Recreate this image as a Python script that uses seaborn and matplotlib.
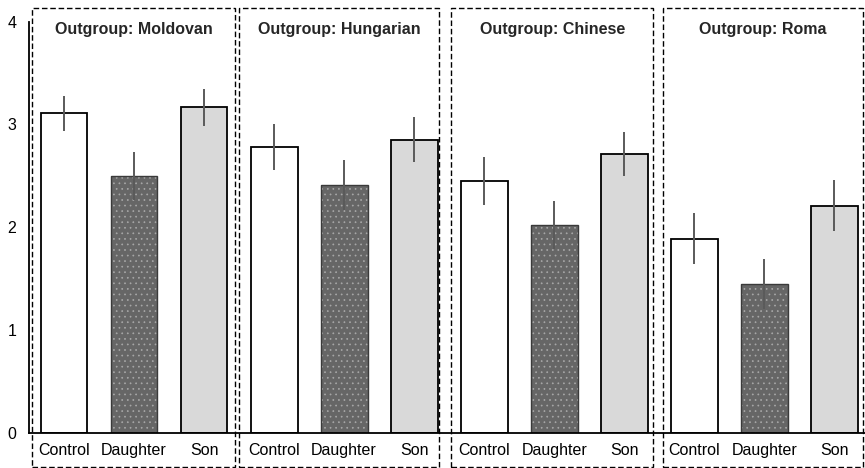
import matplotlib
matplotlib.use("Agg")
import matplotlib.pyplot as plt
from matplotlib.patches import Rectangle
import seaborn as sns
import pandas as pd
import numpy as np

# ---- data ----
outgroups = ["Moldovan", "Hungarian", "Chinese", "Roma"]
conditions = ["Control", "Daughter", "Son"]
means_moldovan = [3.11, 2.50, 3.165]
means_hungarian = [2.78, 2.41, 2.85]
means_chinese = [2.45, 2.02, 2.715]
means_roma = [1.89, 1.45, 2.21]
err_moldovan = [0.17, 0.235, 0.18]
err_hungarian = [0.225, 0.245, 0.22]
err_chinese = [0.235, 0.235, 0.215]
err_roma = [0.245, 0.24, 0.245]
yticks = [0, 1, 2, 3, 4]

# ---- layout (dashed group boxes, in x-category units) ----
box_left = [-0.457, 2.50, 5.529, 8.557]
box_right = [2.443, 5.357, 8.414, 11.41]

means = [means_moldovan, means_hungarian, means_chinese, means_roma]
errs = [err_moldovan, err_hungarian, err_chinese, err_roma]

rows = []
for g, m, e in zip(outgroups, means, errs):
    for c, mv, ev in zip(conditions, m, e):
        rows.append({"slot": f"{g}|{c}", "outgroup": g, "condition": c,
                     "mean": mv, "err": ev})
df = pd.DataFrame(rows)
order = list(df["slot"])

sns.set_theme(style="white")
plt.rcParams["font.family"] = ["Liberation Sans", "DejaVu Sans"]
plt.rcParams["hatch.linewidth"] = 0.5

fig = plt.figure(figsize=(8.65, 4.68), dpi=100)
ax = fig.add_axes([29 / 865, 35 / 468, 836 / 865, 411.5 / 468])

palette = {"Control": "#ffffff", "Daughter": "#666666", "Son": "#d9d9d9"}
sns.barplot(data=df, x="slot", y="mean", hue="condition", order=order,
            palette=palette, dodge=False, width=0.67, errorbar=None,
            legend=False, edgecolor="black", linewidth=1.3, ax=ax)

# styling of the bars: dotted pattern on "Daughter"
bars = sorted(ax.patches, key=lambda p: p.get_x())
for i, p in enumerate(bars):
    cond = conditions[i % 3]
    if cond == "Daughter":
        p.set_hatch("...")
        p.set_edgecolor("#a8a8a8")
        p.set_linewidth(0)
        ax.add_patch(Rectangle((p.get_x(), p.get_y()), p.get_width(), p.get_height(),
                               fill=False, edgecolor="#3a3a3a", linewidth=1.0,
                               zorder=p.get_zorder() + 0.1))

# error bars
x = np.arange(len(df))
ax.errorbar(x, df["mean"], yerr=df["err"], fmt="none", ecolor="#5a5a5a",
            elinewidth=1.4, capsize=0, zorder=5)

ax.set_xlim(-0.5, 11.44)
ax.set_ylim(0, 4)
ax.set_yticks(yticks)
ax.set_yticklabels([str(t) for t in yticks], fontsize=11.5)
ax.set_xticks(x)
ax.set_xticklabels([c for _ in outgroups for c in conditions], fontsize=11.5)
ax.set_xlabel("")
ax.set_ylabel("")
ax.tick_params(axis="x", length=0, pad=7, colors="black")
ax.tick_params(axis="y", direction="inout", length=8, width=1.2, pad=5, colors="black")

for s in ["top", "right"]:
    ax.spines[s].set_visible(False)
for s in ["left", "bottom"]:
    ax.spines[s].set_color("black")
    ax.spines[s].set_linewidth(1.3)

# group boxes and titles
for gi, g in enumerate(outgroups):
    left, right = box_left[gi], box_right[gi]
    ax.add_patch(Rectangle((left, -0.33), right - left, 4.466, fill=False,
                           edgecolor="black", linewidth=1.0, linestyle=(0, (4, 2)),
                           clip_on=False, zorder=6))
    ax.text((left + right) / 2, 3.92, f"Outgroup: {g}", ha="center", va="center",
            fontsize=11.5, fontweight="bold")

fig.savefig("out.png", dpi=100)
